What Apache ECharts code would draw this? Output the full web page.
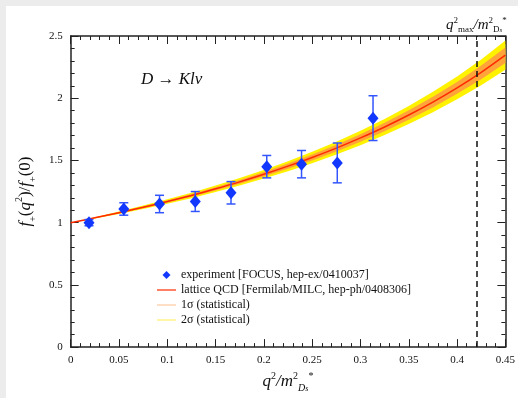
<!DOCTYPE html>
<html>
<head>
<meta charset="utf-8">
<script src="https://cdn.jsdelivr.net/npm/echarts@6/dist/echarts.min.js"></script>
<style>
  html, body { margin: 0; padding: 0; background: #ececec; }
  #main { position: absolute; left: 6px; top: 6px; width: 512px; height: 392px; background: #fff; }
</style>
</head>
<body>
<div id="main"></div>
<script>
// experiment points (FOCUS)
var expX   = [0.019, 0.055, 0.092, 0.129, 0.166, 0.203, 0.239, 0.276, 0.313];
var expY   = [1.00, 1.11, 1.15, 1.17, 1.24, 1.45, 1.47, 1.48, 1.84];
var expErr = [0.025, 0.05, 0.07, 0.08, 0.09, 0.09, 0.11, 0.16, 0.18];

// lattice curve
var latX = [0, 0.025, 0.05, 0.075, 0.1, 0.125, 0.15, 0.175, 0.2, 0.225,
            0.25, 0.275, 0.3, 0.325, 0.35, 0.375, 0.4, 0.425, 0.45];
var latY = [1.000, 1.039, 1.080, 1.123, 1.170, 1.219, 1.272, 1.328, 1.389, 1.454,
            1.524, 1.599, 1.681, 1.769, 1.865, 1.969, 2.083, 2.208, 2.346];
// half widths of the 1 sigma / 2 sigma bands
var sig1 = [0, 0.003, 0.005, 0.007, 0.009, 0.011, 0.013, 0.015, 0.018, 0.021,
            0.024, 0.027, 0.030, 0.034, 0.038, 0.043, 0.048, 0.055, 0.062];
var sig2 = [0, 0.005, 0.010, 0.014, 0.018, 0.022, 0.026, 0.030, 0.035, 0.040,
            0.046, 0.052, 0.058, 0.065, 0.073, 0.082, 0.092, 0.104, 0.118];

var qmaxRatio = 0.421;

var NAME_EXP = 'experiment [FOCUS, hep-ex/0410037]';
var NAME_LAT = 'lattice QCD [Fermilab/MILC, hep-ph/0408306]';
var NAME_S1  = '1σ (statistical)';
var NAME_S2  = '2σ (statistical)';

var SERIF = '"Liberation Serif", "DejaVu Serif", serif';
var BLUE = '#1238ff';

function $each(arr, fn){ for (var i = 0; i < arr.length; i++) fn(i, arr[i]); }

var expData = [], errData = [];
$each(expX, function(i, x){
    expData.push([x, expY[i]]);
    errData.push([x, expY[i], expErr[i]]);
});

var lineData = [], band1 = [], band2 = [];
$each(latX, function(i, x){
    lineData.push([x, latY[i]]);
    band1.push([x, latY[i] - sig1[i], latY[i] + sig1[i]]);
    band2.push([x, latY[i] - sig2[i], latY[i] + sig2[i]]);
});

var myChart = echarts.init(document.getElementById('main'));

var frameLine = { show: true, onZero: false, lineStyle: { color: '#222', width: 1.5 } };
var tickIn = { show: true, inside: true, length: 8, lineStyle: { color: '#222', width: 1 } };
var minorIn = { show: true, splitNumber: 5, length: 4, lineStyle: { color: '#222', width: 1 } };
var tickLabel = { color: '#111', fontFamily: SERIF, fontSize: 11 };
var LINE_ICON = 'path://M0,3.4 L19,3.4 L19,4.6 L0,4.6 Z M0,0 L0,0 M19,8 L19,8';

// band drawn as one polygon: upper edge forward, lower edge back
function bandSeries(name, rows, color, z){
    return {
        name: name,
        type: 'custom',
        data: rows,
        silent: true,
        z: z,
        itemStyle: { color: color },
        renderItem: function(params, api){
            if (params.dataIndex !== 0) return null;
            var pts = [];
            for (var i = 0; i < rows.length; i++) pts.push(api.coord([rows[i][0], rows[i][2]]));
            for (var j = rows.length - 1; j >= 0; j--) pts.push(api.coord([rows[j][0], rows[j][1]]));
            return { type: 'polygon', shape: { points: pts }, style: { fill: color } };
        }
    };
}

var option = {
    animation: false,
    title: [{
        text: '{i|D} → {i|Klν}',
        left: 130,
        top: 60,
        textStyle: {
            rich: {
                i: { fontFamily: SERIF, fontStyle: 'italic', fontSize: 17, color: '#111' }
            },
            fontFamily: SERIF, fontSize: 17, fontWeight: 'normal', color: '#111'
        }
    }],
    legend: {
        orient: 'vertical',
        left: 146,
        top: 258,
        itemWidth: 19,
        itemHeight: 8,
        itemGap: 3,
        selectedMode: false,
        itemStyle: { borderWidth: 0 },
        textStyle: { fontFamily: SERIF, fontSize: 12, color: '#111' },
        data: [
            { name: NAME_EXP, icon: 'path://M9.5,0 L13.5,4 L9.5,8 L5.5,4 Z M0,4 L0,4 M19,4 L19,4', itemStyle: { color: BLUE } },
            { name: NAME_LAT, icon: LINE_ICON, itemStyle: { color: '#ff2a00' } },
            { name: NAME_S1,  icon: LINE_ICON, itemStyle: { color: '#ffc9a0' } },
            { name: NAME_S2,  icon: LINE_ICON, itemStyle: { color: '#fff06a' } }
        ]
    },
    grid: { left: 52, right: 11, top: 30, bottom: 45, containLabel: false },
    xAxis: [{
        type: 'value',
        min: 0, max: 0.45, interval: 0.05,
        axisLine: frameLine,
        axisTick: tickIn,
        minorTick: minorIn,
        splitLine: { show: false },
        axisLabel: tickLabel,
        name: '{i|q}{sup|2}{i|/m}{sup|2}{sub|D}{subs|s}{sup|*}',
        nameLocation: 'middle',
        nameGap: 16,
        nameTextStyle: {
            rich: {
                i:    { fontFamily: SERIF, fontStyle: 'italic', fontSize: 17, color: '#111', lineHeight: 22, verticalAlign: 'middle' },
                sup:  { fontFamily: SERIF, fontSize: 10, color: '#111', lineHeight: 22, verticalAlign: 'top' },
                sub:  { fontFamily: SERIF, fontStyle: 'italic', fontSize: 10, color: '#111', lineHeight: 22, verticalAlign: 'bottom' },
                subs: { fontFamily: SERIF, fontStyle: 'italic', fontSize: 8, color: '#111', lineHeight: 20, verticalAlign: 'bottom' }
            }
        }
    }, {
        type: 'value',
        position: 'top',
        min: 0, max: 0.45, interval: 0.05,
        axisLine: frameLine,
        axisTick: tickIn,
        minorTick: minorIn,
        splitLine: { show: false },
        axisLabel: { show: false }
    }],
    yAxis: [{
        type: 'value',
        min: 0, max: 2.5, interval: 0.5,
        axisLine: frameLine,
        axisTick: tickIn,
        minorTick: minorIn,
        splitLine: { show: false },
        axisLabel: tickLabel,
        name: '{i|f}{sub|+}{n|(}{i|q}{sup|2}{n|)/}{i|f}{sub|+}{n|(0)}',
        nameLocation: 'middle',
        nameGap: 28,
        nameTextStyle: {
            rich: {
                i:   { fontFamily: SERIF, fontStyle: 'italic', fontSize: 17, color: '#111', lineHeight: 24, verticalAlign: 'middle' },
                n:   { fontFamily: SERIF, fontSize: 17, color: '#111', lineHeight: 24, verticalAlign: 'middle' },
                sup: { fontFamily: SERIF, fontSize: 10, color: '#111', lineHeight: 24, verticalAlign: 'top' },
                sub: { fontFamily: SERIF, fontSize: 10, color: '#111', lineHeight: 24, verticalAlign: 'bottom' }
            }
        }
    }, {
        type: 'value',
        position: 'right',
        min: 0, max: 2.5, interval: 0.5,
        axisLine: frameLine,
        axisTick: tickIn,
        minorTick: minorIn,
        splitLine: { show: false },
        axisLabel: { show: false }
    }],
    series: [
        bandSeries(NAME_S2, band2, '#fff200', 1),
        bandSeries(NAME_S1, band1, '#ffa43a', 2),
        {
            name: NAME_LAT,
            type: 'line',
            data: lineData,
            smooth: 0.3,
            symbol: 'none',
            z: 3,
            lineStyle: { color: '#ff2a00', width: 1.5 },
            itemStyle: { color: '#ff2a00' }
        },
        {
            name: NAME_EXP,
            type: 'custom',
            data: errData,
            z: 4,
            renderItem: function(params, api){
                var x = api.value(0), y = api.value(1), e = api.value(2);
                var hi = api.coord([x, y + e]);
                var lo = api.coord([x, y - e]);
                var w = 4.5;
                var st = { stroke: '#3355ff', lineWidth: 1.5 };
                return {
                    type: 'group',
                    children: [
                        { type: 'line', shape: { x1: hi[0], y1: hi[1], x2: lo[0], y2: lo[1] }, style: st },
                        { type: 'line', shape: { x1: hi[0] - w, y1: hi[1], x2: hi[0] + w, y2: hi[1] }, style: st },
                        { type: 'line', shape: { x1: lo[0] - w, y1: lo[1], x2: lo[0] + w, y2: lo[1] }, style: st }
                    ]
                };
            }
        },
        {
            name: NAME_EXP,
            type: 'scatter',
            data: expData,
            symbol: 'diamond',
            symbolSize: [11, 13],
            z: 5,
            itemStyle: { color: BLUE, opacity: 1 },
            markLine: {
                silent: true,
                symbol: 'none',
                lineStyle: { color: '#111', type: [6, 4], width: 1.5 },
                label: {
                    show: true,
                    position: 'end',
                    distance: 2,
                    formatter: '{i|q}{sup|2}{sub|max}{i|/m}{sup|2}{sub|D}{subs|s}{sup|*}',
                    rich: {
                        i:    { fontFamily: SERIF, fontStyle: 'italic', fontSize: 15, color: '#111', lineHeight: 18, verticalAlign: 'middle' },
                        sup:  { fontFamily: SERIF, fontSize: 9, color: '#111', lineHeight: 18, verticalAlign: 'top' },
                        sub:  { fontFamily: SERIF, fontSize: 9, color: '#111', lineHeight: 18, verticalAlign: 'bottom' },
                        subs: { fontFamily: SERIF, fontStyle: 'italic', fontSize: 7, color: '#111', lineHeight: 17, verticalAlign: 'bottom' }
                    }
                },
                data: [{ xAxis: qmaxRatio }]
            }
        }
    ]
};
myChart.setOption(option);
</script>
</body>
</html>
